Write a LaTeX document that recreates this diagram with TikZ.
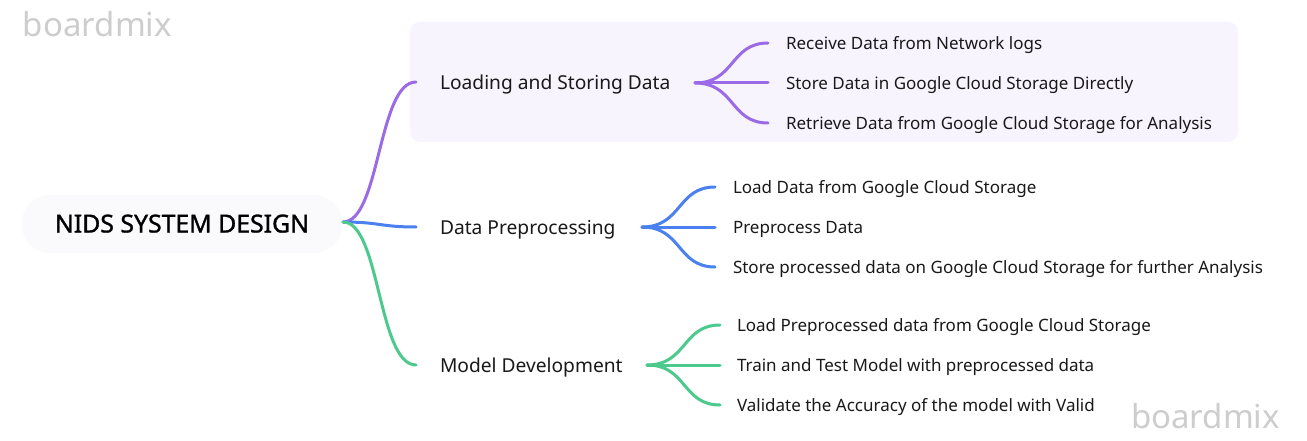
\documentclass[tikz,border=0pt]{standalone}
\usepackage{fontspec}
\setmainfont{Noto Sans}
\newfontfamily\rootfont{Noto Sans}[FakeBold=1.2]
\begin{document}
\begin{tikzpicture}[x=1pt,y=-1pt,
  every node/.style={inner sep=0pt, outer sep=0pt},
  rootbox/.style={fill=rootfill, rounded corners=28pt, minimum width=320pt, minimum height=58pt},
  roottxt/.style={anchor=base, font=\rootfont\fontsize{24.8}{28}\selectfont, text=black},
  branchlbl/.style={anchor=base west, font=\fontsize{19.2}{23}\selectfont, text=black!90},
  leaflbl/.style={anchor=base west, font=\fontsize{17}{20}\selectfont, text=black!90},
  wmark/.style={text=wmgray, font=\fontsize{33}{38}\selectfont},
  conn/.style={line width=3pt, line cap=round}
]
\definecolor{rootfill}{HTML}{FAFAFD}
\definecolor{boxfill}{HTML}{F8F4FE}
\definecolor{cpurple}{HTML}{9B6AE6}
\definecolor{cblue}{HTML}{4A80F0}
\definecolor{cgreen}{HTML}{4CC98C}
\definecolor{wmgray}{HTML}{CDCDCD}
\useasboundingbox (0,0) rectangle (1307,441);
\fill[white] (0,0) rectangle (1307,441);
% watermarks
\node[wmark, anchor=west] (wm1) at (23,24) {boardmix};
\node[wmark, anchor=west] (wm2) at (1131,416) {boardmix};
% background of first branch
\fill[boxfill, rounded corners=10pt] (410,22) rectangle (1238,142);
% root
\node[rootbox] (root) at (182,224) {};
\node[roottxt] (roottext) at (182,232.5) {NIDS SYSTEM DESIGN};
\coordinate (r) at (343,222);
% branch end points
\coordinate (e1) at (416,82);
\coordinate (e2) at (416,227);
\coordinate (e3) at (416,365);
\node[branchlbl] (b1) at (440,89.5) {Loading and Storing Data};
\node[branchlbl] (b2) at (440,234) {Data Preprocessing};
\node[branchlbl] (b3) at (440,372) {Model Development};
\draw[conn, cpurple] (r) .. controls (380,222) and (378,82) .. (e1);
\draw[conn, cblue] (r) .. controls (380,222) and (380,227) .. (e2);
\draw[conn, cgreen] (r) .. controls (380,222) and (378,365) .. (e3);
% forks
\coordinate (f1) at (695,83);
\coordinate (f2) at (642,227);
\coordinate (f3) at (647,365);
% leaves branch 1
\node[leaflbl] (l11) at (786,49.5) {Receive Data from Network logs};
\node[leaflbl] (l12) at (786,89.5) {Store Data in Google Cloud Storage Directly};
\node[leaflbl] (l13) at (786,129.5) {Retrieve Data from Google Cloud Storage for Analysis};
\coordinate (t11) at (768,43);
\coordinate (t12) at (768,83);
\coordinate (t13) at (768,123);
\draw[conn, cpurple] (f1) .. controls (735,83) and (730,43) .. (t11);
\draw[conn, cpurple] (f1) -- (t12);
\draw[conn, cpurple] (f1) .. controls (735,83) and (730,123) .. (t13);
% leaves branch 2
\node[leaflbl] (l21) at (733,193.5) {Load Data from Google Cloud Storage};
\node[leaflbl] (l22) at (733,233.5) {Preprocess Data};
\node[leaflbl] (l23) at (733,273.5) {Store processed data on Google Cloud Storage for further Analysis};
\coordinate (t21) at (715,187);
\coordinate (t22) at (715,227);
\coordinate (t23) at (715,267);
\draw[conn, cblue] (f2) .. controls (682,227) and (677,187) .. (t21);
\draw[conn, cblue] (f2) -- (t22);
\draw[conn, cblue] (f2) .. controls (682,227) and (677,267) .. (t23);
% leaves branch 3
\node[leaflbl] (l31) at (737,331.5) {Load Preprocessed data from Google Cloud Storage};
\node[leaflbl] (l32) at (737,371.5) {Train and Test Model with preprocessed data};
\node[leaflbl] (l33) at (737,411.5) {Validate the Accuracy of the model with Valid};
\coordinate (t31) at (720,325);
\coordinate (t32) at (720,365);
\coordinate (t33) at (720,405);
\draw[conn, cgreen] (f3) .. controls (687,365) and (682,325) .. (t31);
\draw[conn, cgreen] (f3) -- (t32);
\draw[conn, cgreen] (f3) .. controls (687,365) and (682,405) .. (t33);
\end{tikzpicture}
\end{document}
